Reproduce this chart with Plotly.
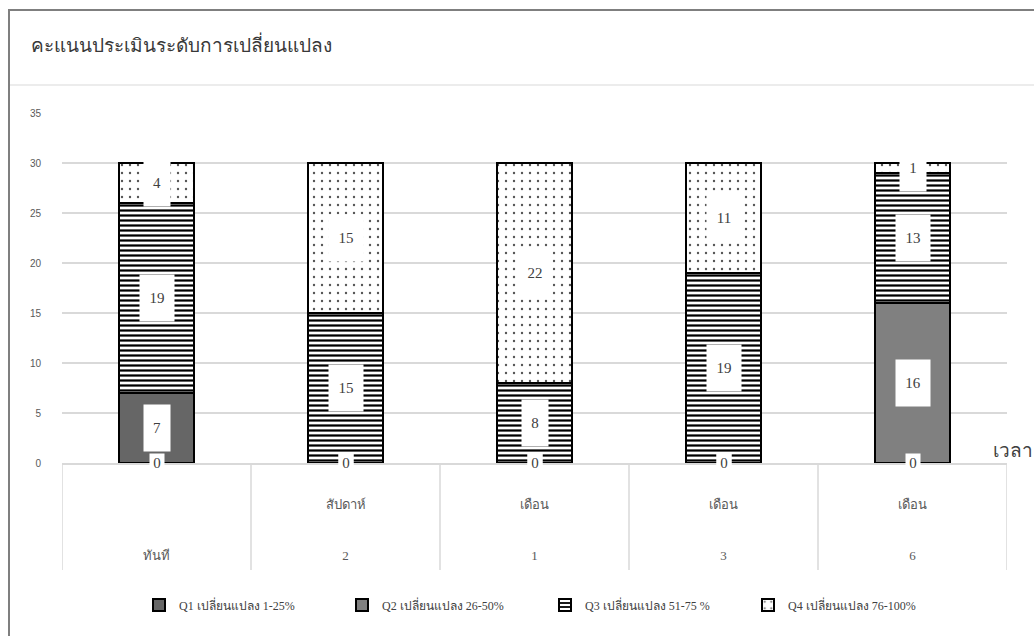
import plotly.graph_objects as go

# ---- data ----
categories = ["ทันที", "2 สัปดาห์", "1 เดือน", "3 เดือน", "6 เดือน"]
unit_labels = ["", "สัปดาห์", "เดือน", "เดือน", "เดือน"]
number_labels = ["ทันที", "2", "1", "3", "6"]

series_names = [
    "Q1 เปลี่ยนแปลง 1-25%",
    "Q2 เปลี่ยนแปลง 26-50%",
    "Q3 เปลี่ยนแปลง 51-75 %",
    "Q4 เปลี่ยนแปลง 76-100%",
]
q1 = [7, 0, 0, 0, 0]
q2 = [0, 0, 0, 0, 16]
q3 = [19, 15, 8, 19, 13]
q4 = [4, 15, 22, 11, 1]
y_ticks = [0, 5, 10, 15, 20, 25, 30, 35]

title_text = "คะแนนประเมินระดับการเปลี่ยนแปลง"
axis_title = "เวลา"

# ---- styles ----
W, H = 1034, 636
ML, MR, MT, MB = 62, 27, 113, 173
PW, PH = W - ML - MR, H - MT - MB

def px_x(px):
    return (px - ML) / PW

def px_y(py):
    return (H - MB - py) / PH

serif = "Liberation Serif, DejaVu Serif, serif"
grid = "#d9d9d9"
txt = "#595959"

styles = [
    dict(color="#666666", line=dict(color="black", width=2)),
    dict(color="#808080", line=dict(color="black", width=2)),
    dict(color="white", line=dict(color="black", width=2),
         pattern=dict(shape="-", fgcolor="black", bgcolor="white",
                      size=5, solidity=0.45, fillmode="replace")),
    dict(color="white", line=dict(color="black", width=2),
         pattern=dict(shape=".", fgcolor="#555555", bgcolor="white",
                      size=8, solidity=0.07, fillmode="replace")),
]

fig = go.Figure()
all_series = [q1, q2, q3, q4]
for name, vals, st in zip(series_names, all_series, styles):
    fig.add_trace(go.Bar(x=categories, y=vals, name=name, marker=st))

# data labels (white boxes like the original)
annotations = []
base = [0] * len(categories)
for vals in all_series:
    for i, v in enumerate(vals):
        if v == 0:
            y = 0
            w, h = 14, 18
        else:
            y = base[i] + v / 2
            w = 26 if v < 10 else 34
            h = 46
        annotations.append(dict(
            x=categories[i], y=y, xref="x", yref="y", text=str(v),
            showarrow=False, bgcolor="white", width=w, height=h, borderpad=0,
            font=dict(family=serif, size=15, color="#404040"),
        ))
        base[i] += v

annotations.append(dict(
    x=px_x(29), y=px_y(45), xref="paper", yref="paper", xanchor="left", yanchor="middle",
    text=title_text, showarrow=False,
    font=dict(family="Noto Sans, DejaVu Sans, sans-serif", size=19, color="#383838"),
))
annotations.append(dict(
    x=px_x(991), y=px_y(450), xref="paper", yref="paper", xanchor="left", yanchor="middle",
    text=axis_title, showarrow=False,
    font=dict(family="Noto Sans, DejaVu Sans, sans-serif", size=19, color="#404040"),
))

shapes = []
# category dividers below the axis
n = len(categories)
for k in range(n + 1):
    shapes.append(dict(type="line", xref="x", yref="paper", x0=k - 0.5, x1=k - 0.5,
                       y0=0, y1=px_y(570), line=dict(color=grid, width=1.5)))
# chart frame and title separator
shapes.append(dict(type="rect", xref="paper", yref="paper",
                   x0=px_x(9), x1=px_x(1100), y0=px_y(700), y1=px_y(10),
                   line=dict(color="#7f7f7f", width=2)))
shapes.append(dict(type="line", xref="paper", yref="paper",
                   x0=px_x(10), x1=px_x(1100), y0=px_y(85), y1=px_y(85),
                   line=dict(color="#e6e6e6", width=1.5)))

ticktext = [f"{u if u else '&nbsp;'}<br><br><br>{nl}" for u, nl in zip(unit_labels, number_labels)]

fig.update_layout(
    width=W, height=H,
    margin=dict(l=ML, r=MR, t=MT, b=MB),
    paper_bgcolor="white", plot_bgcolor="white",
    barmode="stack", bargap=0.6,
    showlegend=True,
    legend=dict(orientation="h", x=px_x(545), xanchor="center", y=px_y(605), yanchor="middle",
                font=dict(family=serif, size=12, color="#404040"),
                entrywidth=158, traceorder="normal"),
    xaxis=dict(type="category", showline=True, linecolor=grid, linewidth=1.5,
               showgrid=False, tickvals=categories, ticktext=ticktext,
               ticks="outside", ticklen=29, tickcolor="rgba(0,0,0,0)",
               tickfont=dict(family=serif, size=13, color=txt),
               range=[-0.5, n - 0.5]),
    yaxis=dict(range=[0, 35], tickvals=y_ticks, showgrid=True, gridcolor=grid, gridwidth=1.5,
               zeroline=False, showline=False,
               ticks="outside", ticklen=18, tickcolor="rgba(0,0,0,0)",
               tickfont=dict(family="Liberation Sans, sans-serif", size=10, color=txt)),
    annotations=annotations,
    shapes=shapes,
)

fig.write_html("out.html")
